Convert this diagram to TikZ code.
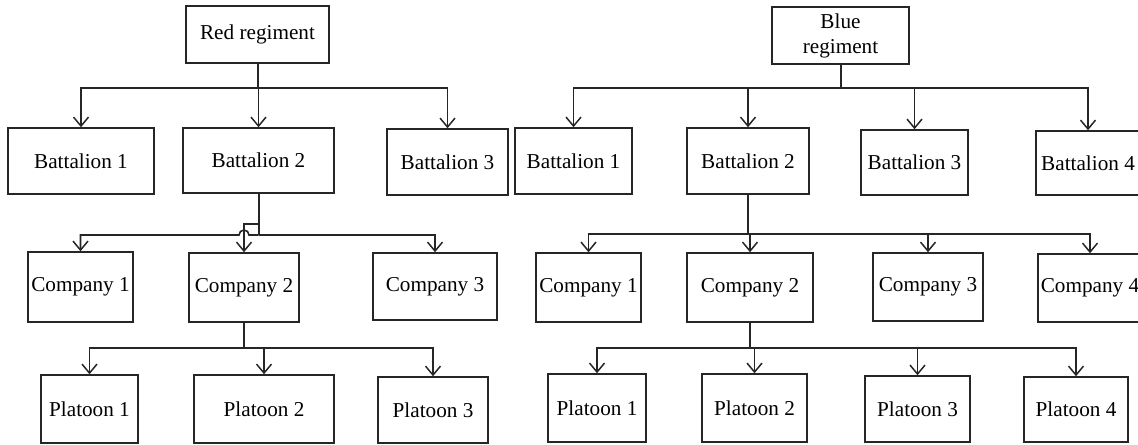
\documentclass[tikz,border=0pt]{standalone}
\usepackage{fontspec}
\setmainfont{Liberation Serif}
\usepackage{tikz}
\usetikzlibrary{arrows.meta}
\definecolor{unitdark}{RGB}{38,38,38}
\tikzset{
  unit/.style={draw=unitdark,line width=0.75pt,inner sep=1pt,align=center,font=\fontsize{10.6}{12.5}\selectfont},
  link/.style={-{Straight Barb[length=4.5pt,width=7.5pt,line width=0.75pt]},line width=0.8pt,draw=unitdark},
  trunk/.style={line width=1pt,draw=unitdark},
}

\begin{document}
\begin{tikzpicture}[x=0.5pt,y=-0.5pt]
  \useasboundingbox (0,0) rectangle (1138,444);
  % red side
  \node[unit,minimum width=71.5pt,minimum height=28.5pt] (red) at (257.5,34.5) {Red regiment};
  \node[unit,minimum width=73pt,minimum height=33pt] (lb1) at (81,161) {Battalion 1};
  \node[unit,minimum width=75.5pt,minimum height=32.5pt] (lb2) at (258.5,160.5) {Battalion 2};
  \node[unit,minimum width=60.5pt,minimum height=33pt] (lb3) at (447.5,162) {Battalion 3};
  \node[unit,minimum width=52.5pt,minimum height=35pt] (lc1) at (80.5,287) {Company 1};
  \node[unit,minimum width=55pt,minimum height=34.5pt] (lc2) at (244,287.5) {Company 2};
  \node[unit,minimum width=62pt,minimum height=33.5pt] (lc3) at (435,286.5) {Company 3};
  \node[unit,minimum width=48.5pt,minimum height=34pt] (lp1) at (89.5,409) {Platoon 1};
  \node[unit,minimum width=70pt,minimum height=34pt] (lp2) at (264,409) {Platoon 2};
  \node[unit,minimum width=55pt,minimum height=33pt] (lp3) at (433,410) {Platoon 3};
  \coordinate (lbus) at (257.5,88);
  \coordinate (lcbus) at (258.5,235);
  \coordinate (lpbus) at (244,348);
  \draw[trunk] (red.south) -- (lbus);
  \foreach \n in {lb1,lb2,lb3} \draw[link] (lbus) -| (\n.north);
  \draw[trunk] (lb2.south) -- (lcbus);
  \draw[link] (lb2.south) -- ++(0,30) -| (lc2.north);
  \draw[link] (lcbus) -- (249,235) arc[start angle=0,end angle=-180,radius=5] -| (lc1.north);
  \draw[link] (lcbus) -| (lc3.north);
  \draw[trunk] (lc2.south) -- (lpbus);
  \foreach \n in {lp1,lp2,lp3} \draw[link] (lpbus) -| (\n.north);
  % blue side
  \node[unit,minimum width=68.5pt,minimum height=28.5pt] (blue) at (840.5,35.5) {Blue\\regiment};
  \node[unit,minimum width=58.5pt,minimum height=33pt] (rb1) at (573.5,161) {Battalion 1};
  \node[unit,minimum width=61pt,minimum height=33pt] (rb2) at (748,161) {Battalion 2};
  \node[unit,minimum width=53.5pt,minimum height=32.5pt] (rb3) at (914.5,162.5) {Battalion 3};
  \node[unit,minimum width=52pt,minimum height=32pt] (rb4) at (1088,163) {Battalion 4};
  \node[unit,minimum width=52.5pt,minimum height=34.5pt] (rc1) at (588.5,287.5) {Company 1};
  \node[unit,minimum width=63pt,minimum height=34.5pt] (rc2) at (750,287.5) {Company 2};
  \node[unit,minimum width=55pt,minimum height=34pt] (rc3) at (928,287) {Company 3};
  \node[unit,minimum width=52pt,minimum height=34pt] (rc4) at (1090,288) {Company 4};
  \node[unit,minimum width=49pt,minimum height=34pt] (rp1) at (597,408) {Platoon 1};
  \node[unit,minimum width=52.5pt,minimum height=34pt] (rp2) at (754.5,408) {Platoon 2};
  \node[unit,minimum width=52.5pt,minimum height=33pt] (rp3) at (917.5,409) {Platoon 3};
  \node[unit,minimum width=52pt,minimum height=32.5pt] (rp4) at (1076,409.5) {Platoon 4};
  \coordinate (rbus) at (840.5,88);
  \coordinate (rcbus) at (748,234);
  \coordinate (rpbus) at (750,348);
  \draw[trunk] (blue.south) -- (rbus);
  \foreach \n in {rb1,rb2,rb3,rb4} \draw[link] (rbus) -| (\n.north);
  \draw[trunk] (rb2.south) -- (rcbus);
  \foreach \n in {rc1,rc2,rc3,rc4} \draw[link] (rcbus) -| (\n.north);
  \draw[trunk] (rc2.south) -- (rpbus);
  \foreach \n in {rp1,rp2,rp3,rp4} \draw[link] (rpbus) -| (\n.north);
\end{tikzpicture}
\end{document}
